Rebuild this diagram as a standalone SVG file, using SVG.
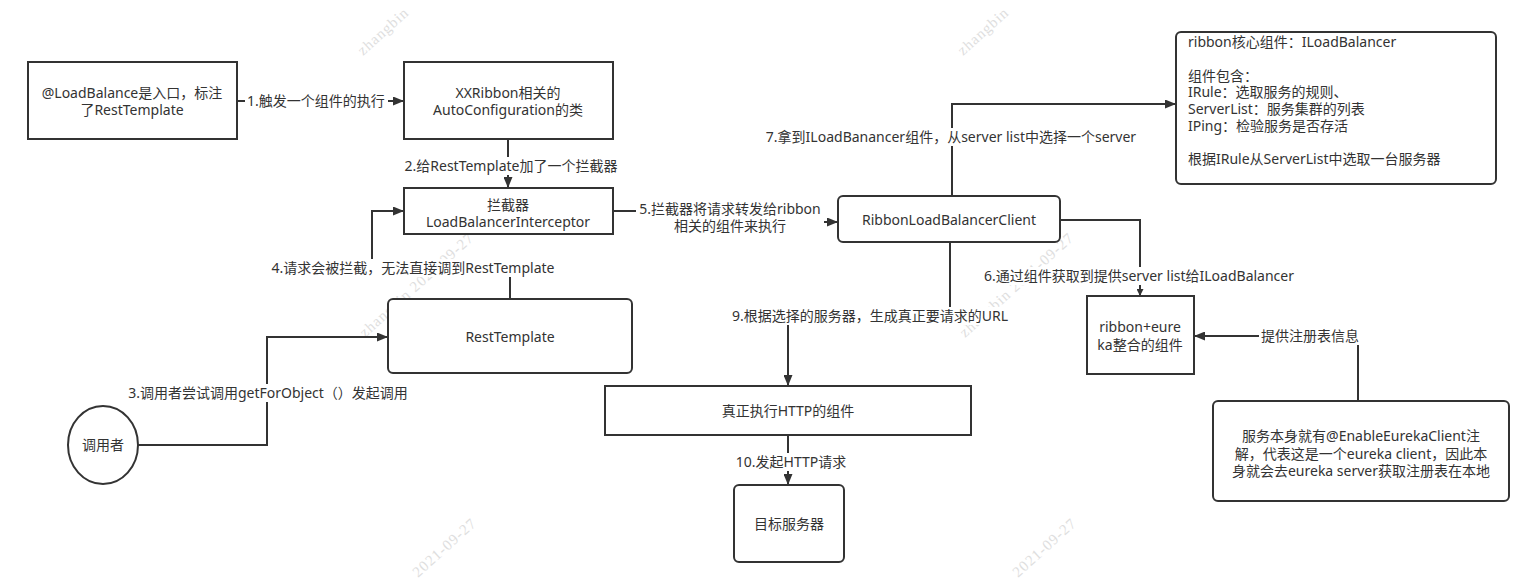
<svg xmlns="http://www.w3.org/2000/svg" width="1536" height="582" viewBox="0 0 1536 582">
<style>
text{font-family:"Noto Sans","Noto Sans CJK SC",sans-serif;fill:#333;}
.n{font-size:14px;text-anchor:middle;}
.l{font-size:14px;text-anchor:middle;}
.lt{font-size:14px;}
.box{fill:#fff;stroke:#333;stroke-width:2;}
.e{fill:none;stroke:#333;stroke-width:2;}
.lb{fill:#fff;}
.wm{font-family:"Liberation Serif",serif;font-size:15px;letter-spacing:1px;fill:#dedede;}
</style>
<defs>
<marker id="ah" markerWidth="11" markerHeight="9" refX="10" refY="4.5" orient="auto" markerUnits="userSpaceOnUse">
<path d="M0,0 L11,4.5 L0,9 Z" fill="#333"/>
</marker>
<marker id="ahs" markerWidth="7" markerHeight="7" refX="6" refY="3.5" orient="auto" markerUnits="userSpaceOnUse">
<path d="M0,0 L7,3.5 L0,7 Z" fill="#333"/>
</marker>
</defs>
<rect width="1536" height="582" fill="#fff"/>
<g id="watermarks">
<text class="wm" transform="translate(363,56) rotate(-42)">zhangbin</text>
<text class="wm" transform="translate(963,56) rotate(-42)">zhangbin</text>
<text class="wm" transform="translate(365,338) rotate(-42)">zhangbin 2021-09-27</text>
<text class="wm" transform="translate(965,338) rotate(-42)">zhangbin 2021-09-27</text>
<text class="wm" transform="translate(418,578) rotate(-42)">2021-09-27</text>
<text class="wm" transform="translate(1018,578) rotate(-42)">2021-09-27</text>
</g>
<g id="connectors">
<path class="e" d="M237,101 L403,101" marker-end="url(#ah)"/>
<path class="e" d="M508,139 L508,187" marker-end="url(#ah)"/>
<path class="e" d="M613,211 L727,211 L727,222 L837,222" marker-end="url(#ah)"/>
<path class="e" d="M952,196 L952,104 L1175,104" marker-end="url(#ah)"/>
<path class="e" d="M1060,220 L1140,220 L1140,295" marker-end="url(#ahs)"/>
<path class="e" d="M1358,401 L1358,336 L1195,336" marker-end="url(#ah)"/>
<path class="e" d="M950,242 L950,316 L788,316 L788,385" marker-end="url(#ah)"/>
<path class="e" d="M788,435 L788,484" marker-end="url(#ah)"/>
<path class="e" d="M510,298 L510,268 L372,268 L372,211 L403,211" marker-end="url(#ah)"/>
<path class="e" d="M138,445 L267,445 L267,337 L387,337" marker-end="url(#ah)"/>
<rect class="lb" x="245" y="92" width="143" height="18"/>
<text class="l" x="316" y="106">1.触发一个组件的执行</text>
<rect class="lb" x="401" y="157" width="222" height="18"/>
<text class="l" x="511" y="171">2.给RestTemplate加了一个拦截器</text>
<rect class="lb" x="636" y="199" width="188" height="36"/>
<text class="l" x="730" y="214">5.拦截器将请求转发给ribbon</text>
<text class="l" x="730" y="231">相关的组件来执行</text>
<rect class="lb" x="760" y="128" width="382" height="18"/>
<text class="l" x="951" y="142">7.拿到ILoadBanancer组件，从server list中选择一个server</text>
<rect class="lb" x="979" y="267" width="320" height="18"/>
<text class="l" x="1139" y="281">6.通过组件获取到提供server list给ILoadBalancer</text>
<rect class="lb" x="1259" y="327" width="102" height="18"/>
<text class="l" x="1310" y="341">提供注册表信息</text>
<rect class="lb" x="727" y="307" width="287" height="18"/>
<text class="l" x="870" y="321">9.根据选择的服务器，生成真正要请求的URL</text>
<rect class="lb" x="731" y="453" width="119" height="18"/>
<text class="l" x="791" y="467">10.发起HTTP请求</text>
<rect class="lb" x="266" y="259" width="295" height="18"/>
<text class="l" x="413" y="273">4.请求会被拦截，无法直接调到RestTemplate</text>
<rect class="lb" x="123" y="384" width="291" height="18"/>
<text class="l" x="268" y="398">3.调用者尝试调用getForObject（）发起调用</text>
</g>
<g id="node-loadbalance">
<rect class="box" x="28" y="62" width="209" height="77"/>
<text class="n" x="132" y="98">@LoadBalance是入口，标注</text>
<text class="n" x="132" y="115">了RestTemplate</text>
</g>
<g id="node-autoconfig">
<rect class="box" x="404" y="62" width="209" height="77"/>
<text class="n" x="508" y="98">XXRibbon相关的</text>
<text class="n" x="508" y="115">AutoConfiguration的类</text>
</g>
<g id="node-interceptor">
<rect class="box" x="404" y="188" width="209" height="46"/>
<text class="n" x="508" y="210">拦截器</text>
<text class="n" x="508" y="227">LoadBalancerInterceptor</text>
</g>
<g id="node-resttemplate">
<rect class="box" x="388" y="299" width="244" height="74" rx="5"/>
<text class="n" x="510" y="342">RestTemplate</text>
</g>
<g id="node-caller">
<ellipse class="box" cx="103" cy="445" rx="35" ry="39"/>
<text class="n" x="103" y="450">调用者</text>
</g>
<g id="node-ribbonclient">
<rect class="box" x="838" y="196" width="222" height="46" rx="5"/>
<text class="n" x="949" y="225">RibbonLoadBalancerClient</text>
</g>
<g id="node-iloadbalancer">
<rect class="box" x="1176" y="32" width="320" height="152" rx="5"/>
<text class="lt" x="1188" y="47">ribbon核心组件：ILoadBalancer</text>
<text class="lt" x="1188" y="81">组件包含：</text>
<text class="lt" x="1188" y="97">IRule：选取服务的规则、</text>
<text class="lt" x="1188" y="114">ServerList：服务集群的列表</text>
<text class="lt" x="1188" y="131">IPing：检验服务是否存活</text>
<text class="lt" x="1188" y="164">根据IRule从ServerList中选取一台服务器</text>
</g>
<g id="node-ribboneureka">
<rect class="box" x="1087" y="296" width="107" height="78"/>
<text class="n" x="1140" y="332">ribbon+eure</text>
<text class="n" x="1140" y="350">ka整合的组件</text>
</g>
<g id="node-eurekaclient">
<rect class="box" x="1213" y="401" width="296" height="100" rx="5"/>
<text class="n" x="1361" y="441">服务本身就有@EnableEurekaClient注</text>
<text class="n" x="1361" y="459">解，代表这是一个eureka client，因此本</text>
<text class="n" x="1361" y="476">身就会去eureka server获取注册表在本地</text>
</g>
<g id="node-http">
<rect class="box" x="605" y="386" width="366" height="49"/>
<text class="n" x="788" y="416">真正执行HTTP的组件</text>
</g>
<g id="node-target">
<rect class="box" x="734" y="485" width="110" height="77" rx="5"/>
<text class="n" x="789" y="529">目标服务器</text>
</g>
</svg>
